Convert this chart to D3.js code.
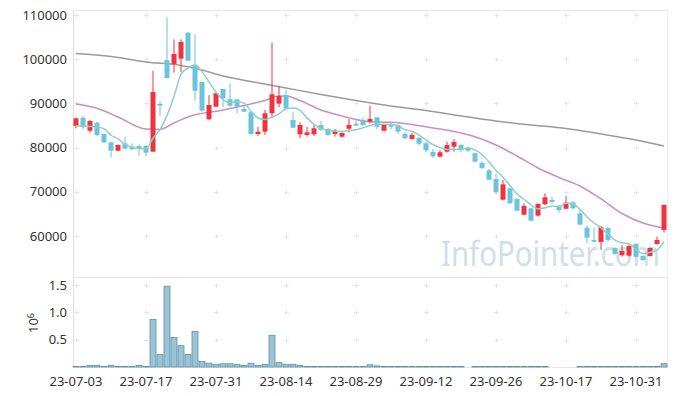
<!DOCTYPE html>
<html>
<head>
<meta charset="utf-8">
<script src="https://cdn.jsdelivr.net/npm/d3@7"></script>
<style>
  body { margin: 0; background: #fff; }
  svg text { font-family: 'Noto Sans', sans-serif; }
</style>
</head>
<body>
<div id="chart"></div>
<script>
// trading days
var dates = ["23-07-03","23-07-04","23-07-05","23-07-06","23-07-07","23-07-10","23-07-11","23-07-12","23-07-13","23-07-14",
    "23-07-17","23-07-18","23-07-19","23-07-20","23-07-21","23-07-24","23-07-25","23-07-26","23-07-27","23-07-28",
    "23-07-31","23-08-01","23-08-02","23-08-03","23-08-04","23-08-07","23-08-08","23-08-09","23-08-10","23-08-11",
    "23-08-14","23-08-16","23-08-17","23-08-18","23-08-21","23-08-22","23-08-23","23-08-24","23-08-25","23-08-28",
    "23-08-29","23-08-30","23-08-31","23-09-01","23-09-04","23-09-05","23-09-06","23-09-07","23-09-08","23-09-11",
    "23-09-12","23-09-13","23-09-14","23-09-15","23-09-18","23-09-19","23-09-20","23-09-21","23-09-22","23-09-25",
    "23-09-26","23-09-27","23-10-04","23-10-05","23-10-06","23-10-10","23-10-11","23-10-12","23-10-13","23-10-16",
    "23-10-17","23-10-18","23-10-19","23-10-20","23-10-23","23-10-24","23-10-25","23-10-26","23-10-27","23-10-30",
    "23-10-31","23-11-01","23-11-02","23-11-03","23-11-06"];

var open  = [84960,86770,83830,85640,83080,81200,79300,80980,80210,80370,80370,79080,89870,99820,98920,100120,106000,98690,94840,86410,
    89260,93260,90930,90930,88740,87990,83080,83610,87770,89940,91900,86250,83010,82860,83010,85120,84210,83080,82470,84280,
    85420,86180,85870,86860,83830,85270,85120,83080,81950,82180,80980,79010,77950,79080,80210,80590,79990,78720,76520,74870,
    72900,68220,70800,68380,64830,66270,64620,67180,68150,66860,66180,67630,65150,61890,59110,58650,61820,57300,55640,55560,
    58200,55490,55490,58200,61370];
var high  = [86860,87150,86250,85800,83240,81340,80750,82470,80980,80660,80600,97400,90610,109480,104500,104500,106150,105700,94840,91840,
    92290,93260,94550,90930,89420,88130,84730,88510,103820,93940,93030,88130,85730,84730,85270,86020,84510,84210,83460,86480,
    86480,86770,89490,86860,85270,85640,85270,83610,83380,82330,81340,79690,79400,81340,81950,80750,80210,78850,76970,75170,
    74100,72680,70940,68540,67410,66410,67410,69670,68900,67020,69060,67930,66050,62500,61820,62270,61970,57450,57980,58040,
    58350,55640,57450,59850,67180];
var low   = [84370,84150,83380,82630,80980,77810,79160,79620,79460,78110,77950,79080,87150,95750,96950,97110,99660,90610,88210,86250,
    89120,89120,89260,87770,87990,82930,82630,82860,86630,89190,88740,84370,82110,82470,82630,83760,82700,82470,82250,83460,
    84890,84960,85500,84150,83610,84050,83080,81950,81790,80440,78940,77650,77810,78850,79080,78940,78940,76680,75100,72610,
    69580,68090,67190,65600,64690,63340,64380,67020,67250,65280,66050,66050,62430,58350,58580,56840,58720,55780,55330,55330,
    55190,54350,55330,58040,60750];
var close = [86630,84600,86020,82860,81200,79300,80590,79760,79620,79850,78850,92580,89490,95750,101180,103890,99660,92880,88350,89640,
    92290,91160,89490,89260,88130,83080,83610,87770,92060,91680,88890,84510,85120,83460,84370,83990,82860,83830,83310,85120,
    84960,85120,86480,84730,85120,84730,83610,82110,82860,80890,79400,78040,78940,80590,81270,79400,79300,76820,75390,72740,
    69960,71700,67400,65730,66800,63470,67260,68770,67700,65890,67540,66270,62570,59630,58720,61980,59110,55940,56610,57750,
    55330,54580,57300,59110,67020];

// volume, millions
var volume = [0.01,0.01,0.03,0.03,0.01,0.03,0.01,0.01,0.01,0.03,0.01,0.87,0.23,1.48,0.54,0.39,0.23,0.65,0.10,0.07,
    0.05,0.06,0.06,0.05,0.03,0.07,0.03,0.05,0.58,0.08,0.05,0.05,0.03,0.01,0.01,0.01,0.01,0.01,0.01,0.01,
    0.01,0.01,0.04,0.02,0.01,0.01,0.01,0.01,0.01,0.01,0.01,0.01,0.01,0.01,0.01,0.01,0,0.01,0.01,0.01,
    0.01,0.01,0.01,0.01,0.01,0.01,0.01,0.01,0,0,0,0,0.01,0.01,0.01,0.01,0.01,0.01,0.01,0.01,
    0.01,0.01,0.01,0.01,0.06];

// moving averages
var ma5 = [84890,84890,84780,84660,84260,82800,81990,80740,80090,79820,79730,82130,84080,87300,91570,96580,97990,98670,97190,94880,
    92560,90860,90190,90370,90070,88220,86710,86370,86930,87640,88800,88980,88450,86730,85270,84290,83960,83700,83670,83820,
    84020,84470,85000,85280,85280,85240,84930,84060,83690,82840,81770,80660,80030,79570,79650,79650,79900,79480,78440,76730,
    74840,73320,71440,69510,68320,67020,66130,66410,66800,66620,67430,67230,65990,64380,62950,61830,60400,59080,58470,58280,
    56950,56040,56310,56810,58670];
var ma20Idx = [0,3,6,10,12,14,16,21,24,27,29,30,32,35,38,42,45,48,51,54,57,60,63,66,69,72,75,78,81,84];
var ma20 = [89870,88900,86930,84210,84100,85570,86930,88510,89530,90660,91680,91680,90660,88510,87150,85870,85730,85230,84440,83650,
    82470,80590,78110,75390,73240,71320,68380,65100,62950,61820];
var ma60Idx = [0,5,10,15,18,21,25,30,35,40,45,50,55,60,65,70,75,80,84];
var ma60 = [101290,100610,99370,98580,97560,96200,94960,93490,92020,90660,89420,88400,87150,86020,85120,84330,83080,81730,80370];

var priceTicks = [60000, 70000, 80000, 90000, 100000, 110000];
var volTicks = [0.5, 1.0, 1.5];
var dateTicks = [0, 10, 20, 30, 40, 50, 60, 70, 80];

var width = 677, height = 396;
var left = 73, right = 667;

var svg = d3.select("#chart").append("svg")
    .attr("width", width)
    .attr("height", height);

var x = d3.scaleBand()
    .domain(d3.range(dates.length))
    .range([left - 0.5, right + 0.5]);
var cx = function(i) { return x(i) + x.bandwidth() / 2; };

var y = d3.scaleLinear().domain([50620, 111130]).range([277.5, 10]);
var yv = d3.scaleLinear().domain([0, 1.63]).range([367, 278]);

// frame
svg.append("line").attr("x1", left).attr("x2", right).attr("y1", 10.5).attr("y2", 10.5).style("stroke", "#e6e6e6");
svg.append("line").attr("x1", left).attr("x2", right).attr("y1", 277.5).attr("y2", 277.5).style("stroke", "#e6e6e6");
svg.append("line").attr("x1", left).attr("x2", right).attr("y1", 367.5).attr("y2", 367.5).style("stroke", "#e6e6e6");
svg.append("line").attr("x1", left + 0.5).attr("x2", left + 0.5).attr("y1", 10).attr("y2", 368).style("stroke", "#e0e0e0");
svg.append("line").attr("x1", right + 0.5).attr("x2", right + 0.5).attr("y1", 10).attr("y2", 368).style("stroke", "#eeeeee");

// "+" grid markers
var crossPts = [];
dateTicks.forEach(function(i) {
    priceTicks.forEach(function(p) { crossPts.push([cx(i), y(p)]); });
    volTicks.forEach(function(v) { crossPts.push([cx(i), yv(v)]); });
});
svg.append("g").selectAll("path").data(crossPts).enter().append("path")
    .attr("d", function(d) {
        var a = Math.round(d[0]) + 0.5, b = Math.round(d[1]) + 0.5;
        return "M" + (a - 2.5) + "," + b + "H" + (a + 2.5) + "M" + a + "," + (b - 2.5) + "V" + (b + 2.5);
    })
    .style("stroke", "#e6e6e6")
    .style("stroke-width", 1);

// watermark, squeezed to the width seen in the picture
var mark = svg.append("text")
    .attr("x", 0).attr("y", 0)
    .style("font-size", "34px")
    .style("fill", "#cfe0ea")
    .text("InfoPointer.com");
var markW = mark.node().getComputedTextLength();
mark.attr("transform", "translate(441,266) scale(" + (219 / markW) + ",1)");

// y axis labels
svg.append("g").selectAll("text").data(priceTicks).enter().append("text")
    .attr("x", 67).attr("y", function(d) { return y(d); })
    .attr("dy", "0.35em")
    .attr("text-anchor", "end")
    .style("font-size", "13px").style("fill", "#333")
    .text(function(d) { return d; });

svg.append("g").selectAll("text").data(volTicks).enter().append("text")
    .attr("x", 67).attr("y", function(d) { return yv(d); })
    .attr("dy", "0.35em")
    .attr("text-anchor", "end")
    .style("font-size", "13px").style("fill", "#333")
    .text(function(d) { return d3.format(".1f")(d); });

var unit = svg.append("text")
    .attr("transform", "translate(38,323) rotate(-90)")
    .attr("text-anchor", "middle")
    .style("font-size", "13px").style("fill", "#333");
unit.append("tspan").text("10");
unit.append("tspan").attr("dy", "-0.45em").style("font-size", "9px").text("6");

// x labels
svg.append("g").selectAll("text").data(dateTicks).enter().append("text")
    .attr("x", function(i) { return cx(i); })
    .attr("y", 386)
    .attr("text-anchor", "middle")
    .style("font-size", "13px").style("fill", "#333")
    .text(function(i) { return dates[i]; });

// volume bars
svg.append("g").selectAll("rect").data(volume).enter().append("rect")
    .attr("x", function(d, i) { return x(i) + 0.5; })
    .attr("width", x.bandwidth() - 1)
    .attr("y", function(d) { return yv(d); })
    .attr("height", function(d) { return yv(0) - yv(d); })
    .style("fill", "#9bc3d3")
    .style("stroke", function(d) { return d > 0 ? "#5b93ab" : "none"; })
    .style("stroke-width", 0.8);

// moving average lines
var line = d3.line()
    .x(function(d) { return cx(d[0]); })
    .y(function(d) { return y(d[1]); })
    .curve(d3.curveMonotoneX);

svg.append("path")
    .attr("d", line(ma60Idx.map(function(i, k) { return [i, ma60[k]]; })))
    .style("fill", "none").style("stroke", "#9a9a9a").style("stroke-width", 1.5);
svg.append("path")
    .attr("d", line(ma20Idx.map(function(i, k) { return [i, ma20[k]]; })))
    .style("fill", "none").style("stroke", "#cc8cc6").style("stroke-width", 1.5);

// candles
var candle = svg.append("g").selectAll("g").data(dates).enter().append("g");
var upColor = "#ef3340", downColor = "#6cc4dc";
var colorOf = function(i) { return close[i] >= open[i] ? upColor : downColor; };

candle.append("line")
    .attr("x1", function(d, i) { return cx(i); })
    .attr("x2", function(d, i) { return cx(i); })
    .attr("y1", function(d, i) { return y(high[i]); })
    .attr("y2", function(d, i) { return y(low[i]); })
    .style("stroke", function(d, i) { return colorOf(i); })
    .style("stroke-width", 1);

candle.append("rect")
    .attr("x", function(d, i) { return cx(i) - 2.5; })
    .attr("width", 5)
    .attr("y", function(d, i) { return y(Math.max(open[i], close[i])); })
    .attr("height", function(d, i) { return Math.max(1.5, Math.abs(y(open[i]) - y(close[i]))); })
    .style("fill", function(d, i) { return colorOf(i); });

svg.append("path")
    .attr("d", line(ma5.map(function(v, i) { return [i, v]; })))
    .style("fill", "none").style("stroke", "#8ecfc5").style("stroke-width", 1.5);
</script>
</body>
</html>
